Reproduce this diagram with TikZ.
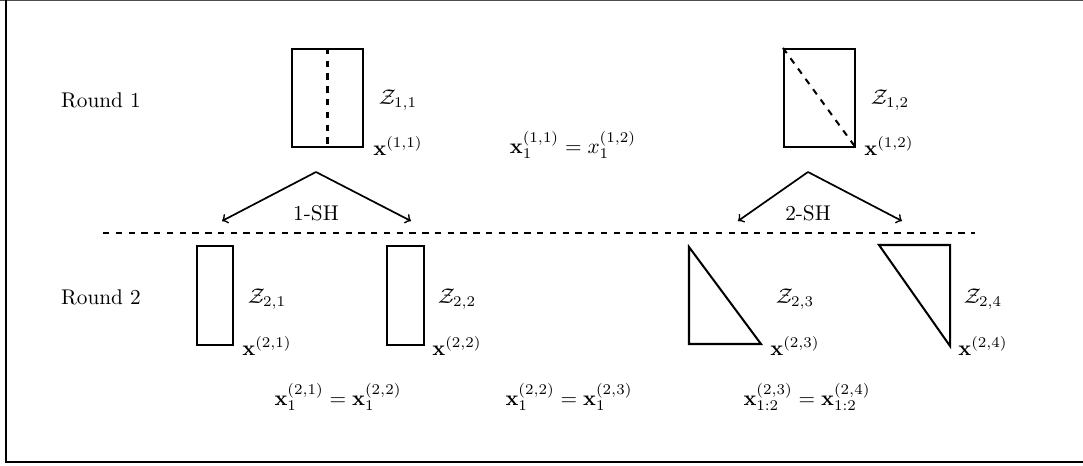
\documentclass[tikz,border=0pt]{standalone}
\usepackage{amsmath,amssymb}
\usetikzlibrary{positioning,calc}
\tikzset{
  region box/.style={
    draw, line width=0.95pt, inner sep=0pt,
  },
  split line/.style={
    line width=0.95pt, dashed,
  },
  sh arrow/.style={
    ->, line width=0.8pt,
  },
  round label/.style={
    font=\normalsize,
  },
}

\begin{document}
\begin{tikzpicture}[x=0.47pt, y=-0.47pt]

% frame of the figure
\useasboundingbox (0,0) rectangle (1083,466);
\draw[black!70, line width=0.6pt] (0,0.6) -- (1083,0.6);
\draw[line width=1pt] (6,0) -- (6,462) -- (1083,462);

% row labels
\node[round label] (rd1) at (101,100) {Round 1};
\node[round label] (rd2) at (101,297) {Round 2};

%% Round 1 ==========================================================

\node[region box, minimum width=33.4pt, minimum height=46.1pt] (r11) at (327.5,98) {};
\node[region box, minimum width=33.4pt, minimum height=46.1pt] (r12) at (819.5,98) {};
\draw[split line] (r11.north) -- (r11.south);
\draw[split line] (r12.north west) -- (r12.south east);

\node (z11) at (398,100) {$\mathcal{Z}_{1,1}$};
\node (z12) at (890,100) {$\mathcal{Z}_{1,2}$};
\node (x11) at (398,146) {$\mathbf{x}^{(1,1)}$};
\node (x12) at (889,146) {$\mathbf{x}^{(1,2)}$};
\node (eq1) at (573,145) {$\mathbf{x}_1^{(1,1)} = x_1^{(1,2)}$};

% splitting arrows
\foreach \s/\ax/\lx/\rx/\txt in {1/316/222/411/1-SH, 2/808/738/902/2-SH} {
  \coordinate (top\s) at (\ax,172);
  \coordinate (lft\s) at (\lx,221);
  \coordinate (rgt\s) at (\rx,221);
  \draw[sh arrow] (top\s) -- (lft\s);
  \draw[sh arrow] (top\s) -- (rgt\s);
  \node (sh\s) at (\ax,213) {\txt};
}

% separation between the rounds
\coordinate (sepL) at (103,233);
\coordinate (sepR) at (975,233);
\draw[split line] (sepL) -- (sepR);

%% Round 2 ==========================================================

\foreach \i/\cx in {1/215, 2/405.5} {
  \node[region box, minimum width=17pt, minimum height=46.5pt] (r2\i) at (\cx,295.5) {};
}
\draw[line width=0.95pt] (689,247) -- (689,344) -- (761,344) -- cycle;
\draw[line width=0.95pt] (879,245) -- (950,245) -- (950,346) -- cycle;

% labels of the four pieces
\foreach \i/\lx in {1/267, 2/457, 3/795, 4/983} {
  \node (z2\i) at (\lx,299) {$\mathcal{Z}_{2,\i}$};
  \node (x2\i) at (\lx,346) {$\mathbf{x}^{(2,\i)}$};
}

\node (eq2) at (338,397) {$\mathbf{x}_1^{(2,1)} = \mathbf{x}_1^{(2,2)}$};
\node (eq3) at (569,397) {$\mathbf{x}_1^{(2,2)} = \mathbf{x}_1^{(2,3)}$};
\node (eq4) at (807,397) {$\mathbf{x}_{1:2}^{(2,3)} = \mathbf{x}_{1:2}^{(2,4)}$};

\end{tikzpicture}
\end{document}
